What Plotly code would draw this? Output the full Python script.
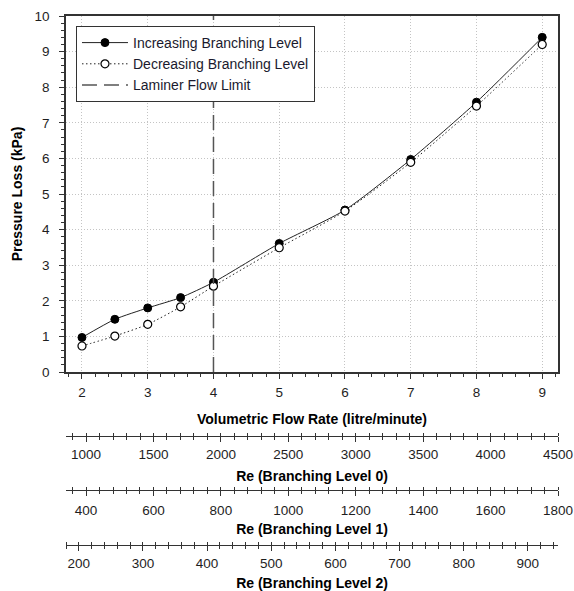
import plotly.graph_objects as go

# ---- data ----
flow_rate = [2, 2.5, 3, 3.5, 4, 5, 6, 7, 8, 9]
increasing = [0.97, 1.48, 1.80, 2.09, 2.52, 3.61, 4.55, 5.97, 7.58, 9.40]
decreasing = [0.73, 1.01, 1.34, 1.83, 2.41, 3.49, 4.52, 5.89, 7.47, 9.20]
laminar_limit_x = [4, 4]
laminar_limit_y = [0, 10]

x_range = [1.757, 9.24]
y_range = [0, 10]
re0_range = [851, 4500]
re1_range = [340.6, 1800]
re2_range = [180, 947]

FONT = "Arial, Liberation Sans, sans-serif"
TXT = "#1e1e1e"

fig = go.Figure()

fig.add_trace(go.Scatter(
    x=flow_rate, y=increasing, name="Increasing Branching Level",
    mode="lines+markers",
    line=dict(color="#222222", width=1, shape="spline", smoothing=0.6),
    marker=dict(symbol="circle", size=8, color="black",
                line=dict(color="black", width=1)),
))
fig.add_trace(go.Scatter(
    x=flow_rate, y=decreasing, name="Decreasing Branching Level",
    mode="lines+markers",
    line=dict(color="#222222", width=1, dash="1.5px,2.5px", shape="spline", smoothing=0.6),
    marker=dict(symbol="circle", size=8, color="white",
                line=dict(color="black", width=1.2)),
))
fig.add_trace(go.Scatter(
    x=laminar_limit_x, y=laminar_limit_y, name="Laminer Flow Limit",
    mode="lines", line=dict(color="#555555", width=1.5, dash="15px,7px"),
))

# invisible anchors for the secondary axes
for ax, rng in (("x2", re0_range), ("x3", re1_range), ("x4", re2_range),
                ("x5", re0_range), ("x6", re1_range), ("x7", re2_range)):
    fig.add_trace(go.Scatter(x=[rng[0]], y=[None], xaxis=ax, yaxis="y",
                             mode="markers", showlegend=False, hoverinfo="skip",
                             marker=dict(opacity=0)))

H = 575.0
def pos(ypix):
    return (591 - ypix) / H

tickfont = dict(family=FONT, size=13.5, color=TXT)
titlefont = dict(family=FONT, size=14, color="black", weight="bold")
GRID = "#c4c4c4"
GRIDDASH = "1px,2px"

def sec_axis(rng, dtick, minor, ypix, title, standoff, lstand):
    return dict(
        range=rng, anchor="free", overlaying="x", position=pos(ypix),
        showgrid=False, zeroline=False, showline=True, linecolor="#333333",
        linewidth=1.2, ticks="outside", ticklen=5, tickcolor="#333333",
        tickwidth=1, dtick=dtick, tick0=0, tickfont=tickfont,
        ticklabelstandoff=lstand,
        minor=dict(ticks="inside", ticklen=3, dtick=minor, tick0=0,
                   tickcolor="#333333", showgrid=False),
        title=dict(text=title, font=titlefont, standoff=standoff),
        automargin=False,
    )

def twin_axis(rng, minor, ypix):
    return dict(
        range=rng, anchor="free", overlaying="x", position=pos(ypix),
        showgrid=False, zeroline=False, showline=False, showticklabels=False,
        ticks="outside", ticklen=3, tickcolor="#333333", tickwidth=1,
        dtick=minor, tick0=0, automargin=False,
    )

fig.update_layout(
    width=574, height=591,
    margin=dict(l=66, r=16, t=16, b=0, autoexpand=False),
    paper_bgcolor="white", plot_bgcolor="white",
    font=dict(family=FONT, color=TXT),
    showlegend=True,
    legend=dict(
        x=0.0203, y=0.9826, xanchor="left", yanchor="top",
        bgcolor="white", bordercolor="#333333", borderwidth=1,
        font=dict(family=FONT, size=14, color="#1a1a2e"),
        tracegroupgap=0, itemwidth=46,
    ),
    xaxis=dict(
        range=x_range, domain=[0, 1], showgrid=True, gridcolor=GRID,
        griddash=GRIDDASH, gridwidth=1, dtick=1, tick0=0, zeroline=False,
        showline=True, linecolor="#333333", linewidth=1.5, mirror=True,
        ticks="outside", ticklen=5, tickcolor="#333333", tickwidth=1,
        tickfont=tickfont, ticklabelstandoff=2,
        minor=dict(ticks="outside", ticklen=3, dtick=0.2, tick0=0,
                   tickcolor="#333333", showgrid=False),
        title=dict(text="Volumetric Flow Rate (litre/minute)", font=titlefont,
                   standoff=15),
        automargin=False,
    ),
    yaxis=dict(
        range=y_range, domain=[pos(372), 1], showgrid=True, gridcolor=GRID,
        griddash=GRIDDASH, gridwidth=1, dtick=1, tick0=0, zeroline=False,
        showline=True, linecolor="#333333", linewidth=1.5, mirror=True,
        ticks="outside", ticklen=5, tickcolor="#333333", tickwidth=1,
        tickfont=tickfont, ticklabelstandoff=7,
        minor=dict(ticks="outside", ticklen=3, dtick=0.2, tick0=0,
                   tickcolor="#333333", showgrid=False),
        title=dict(text="Pressure Loss (kPa)", font=titlefont, standoff=9),
        automargin=False,
    ),
    xaxis2=sec_axis(re0_range, 500, 100, 436, "Re (Branching Level 0)", 9, 1),
    xaxis3=sec_axis(re1_range, 200, 40, 490, "Re (Branching Level 1)", 6, 3),
    xaxis4=sec_axis(re2_range, 100, 20, 545, "Re (Branching Level 2)", 7, 1),
    xaxis5=twin_axis(re0_range, 100, 436),
    xaxis6=twin_axis(re1_range, 40, 490),
    xaxis7=twin_axis(re2_range, 20, 545),
)

fig.write_html("out.html")
